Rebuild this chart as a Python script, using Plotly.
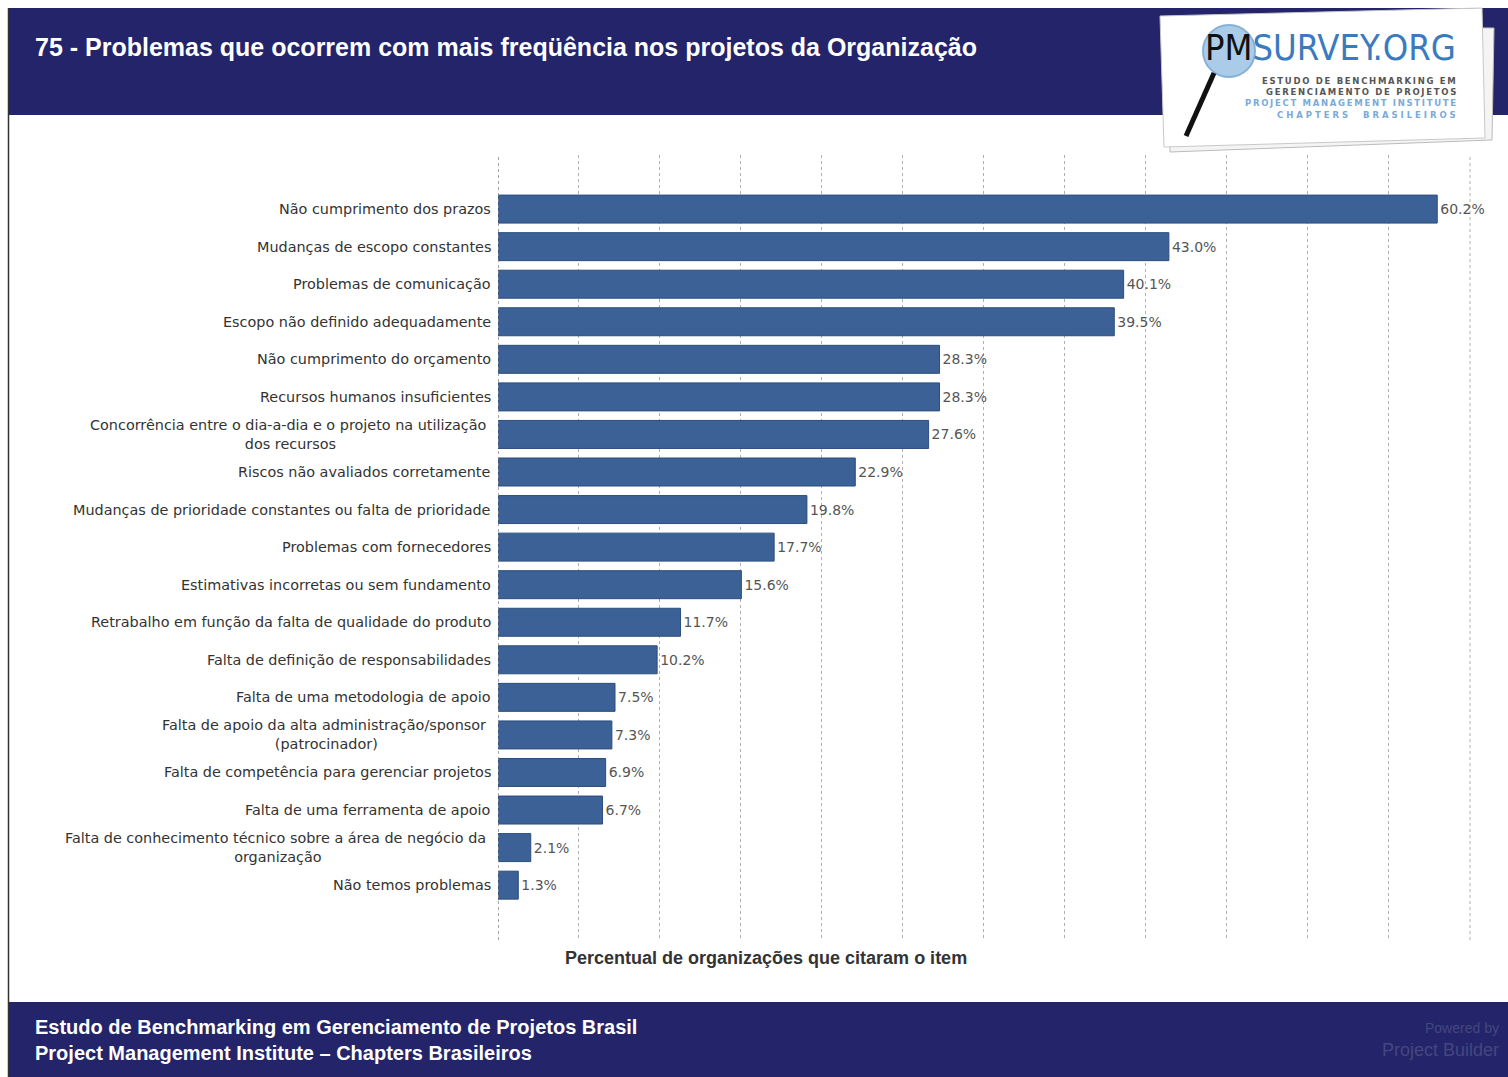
import plotly.graph_objects as go

categories = [
    "Não cumprimento dos prazos",
    "Mudanças de escopo constantes",
    "Problemas de comunicação",
    "Escopo não definido adequadamente",
    "Não cumprimento do orçamento",
    "Recursos humanos insuficientes",
    "Concorrência entre o dia-a-dia e o projeto na utilização <br>dos recursos",
    "Riscos não avaliados corretamente",
    "Mudanças de prioridade constantes ou falta de prioridade",
    "Problemas com fornecedores",
    "Estimativas incorretas ou sem fundamento",
    "Retrabalho em função da falta de qualidade do produto",
    "Falta de definição de responsabilidades",
    "Falta de uma metodologia de apoio",
    "Falta de apoio da alta administração/sponsor <br>(patrocinador)",
    "Falta de competência para gerenciar projetos",
    "Falta de uma ferramenta de apoio",
    "Falta de conhecimento técnico sobre a área de negócio da <br>organização",
    "Não temos problemas",
]
values = [60.2, 43.0, 40.1, 39.5, 28.3, 28.3, 27.6, 22.9, 19.8, 17.7,
          15.6, 11.7, 10.2, 7.5, 7.3, 6.9, 6.7, 2.1, 1.3]
value_labels = [f"{v:.1f}%" for v in values]

title_text = "75 - Problemas que ocorrem com mais freqüência nos projetos da Organização"
axis_title = "Percentual de organizações que citaram o item"
footer_lines = ["Estudo de Benchmarking em Gerenciamento de Projetos Brasil",
                "Project Management Institute – Chapters Brasileiros"]
logo_lines = ["ESTUDO DE BENCHMARKING EM", "GERENCIAMENTO DE PROJETOS",
              "PROJECT MANAGEMENT INSTITUTE", "CHAPTERS  BRASILEIROS"]

W, H = 1508, 1077
ML, MR, MT, MB = 498, 38, 155, 137
PW, PH = W - ML - MR, H - MT - MB

def px(x):
    return (x - ML) / PW

def py(y):
    return (H - MB - y) / PH

NAVY = "#23246a"
BAR = "#3b6196"
GRID = "#b0b0b0"

fig = go.Figure()
fig.add_trace(go.Bar(
    x=values, y=categories, orientation="h",
    marker=dict(color=BAR, line=dict(color="#2c4d7e", width=1)),
    width=0.745,
    text=value_labels, textposition="outside",
    textfont=dict(family="DejaVu Sans", size=14, color="#555555"),
    cliponaxis=False, hoverinfo="skip",
))

shapes = []
shapes.append(dict(type="rect", xref="paper", yref="paper", x0=px(8), x1=px(1508), y0=py(8), y1=py(115),
                   fillcolor=NAVY, line=dict(width=0), layer="below"))
shapes.append(dict(type="rect", xref="paper", yref="paper", x0=px(8), x1=px(1508), y0=py(1002), y1=py(1077),
                   fillcolor=NAVY, line=dict(width=0), layer="below"))
shapes.append(dict(type="line", xref="paper", yref="paper", x0=px(8.5), x1=px(8.5), y0=py(8), y1=py(1077),
                   line=dict(color="#333333", width=1.5)))
shapes.append(dict(type="line", xref="x", yref="paper", x0=0, x1=0, y0=0, y1=1,
                   line=dict(color="#888888", width=1.5, dash="dot")))
shapes.append(dict(type="line", xref="paper", yref="paper", x0=1, x1=1, y0=0, y1=1,
                   line=dict(color=GRID, width=1, dash="dot"), layer="below"))

def path(pts):
    return "M " + " L ".join(f"{px(a)},{py(b)}" for a, b in pts) + " Z"

shapes.append(dict(type="path", xref="paper", yref="paper",
                   path=path([(1168, 26), (1494, 28), (1492, 140), (1170, 152)]),
                   fillcolor="#f4f4f4", line=dict(color="#bbbbbb", width=1)))
shapes.append(dict(type="path", xref="paper", yref="paper",
                   path=path([(1160, 16), (1482, 8), (1485, 138), (1164, 147)]),
                   fillcolor="#ffffff", line=dict(color="#c8c8c8", width=1)))
shapes.append(dict(type="circle", xref="paper", yref="paper",
                   x0=px(1203), x1=px(1255), y0=py(25), y1=py(77),
                   fillcolor="#9cc4e6", line=dict(color="#6fa3d3", width=2), opacity=0.85))
shapes.append(dict(type="line", xref="paper", yref="paper",
                   x0=px(1214), y0=py(73), x1=px(1186), y1=py(136),
                   line=dict(color="#111111", width=5)))

annotations = []
annotations.append(dict(text="<b>" + title_text + "</b>", xref="paper", yref="paper",
                        x=px(33), y=py(47), xanchor="left", yanchor="middle", showarrow=False,
                        font=dict(family="Liberation Sans", size=25, color="white")))
for i, line in enumerate(footer_lines):
    annotations.append(dict(text="<b>" + line + "</b>", xref="paper", yref="paper",
                            x=px(33), y=py(1027 + 26 * i), xanchor="left", yanchor="middle", showarrow=False,
                            font=dict(family="Liberation Sans", size=20, color="white")))
annotations.append(dict(text="Powered by", xref="paper", yref="paper", x=px(1501), y=py(1028),
                        xanchor="right", yanchor="middle", showarrow=False,
                        font=dict(family="Liberation Sans", size=14, color="#44477f")))
annotations.append(dict(text="Project Builder", xref="paper", yref="paper", x=px(1501), y=py(1050),
                        xanchor="right", yanchor="middle", showarrow=False,
                        font=dict(family="Liberation Sans", size=18, color="#44477f")))
annotations.append(dict(text="<span style='color:#111111'>PM</span>SURVEY.ORG", xref="paper", yref="paper",
                        x=px(1203), y=py(47), xanchor="left", yanchor="middle", showarrow=False,
                        font=dict(family="DejaVu Sans Condensed, DejaVu Sans", size=36, color="#3a7bbf")))
logo_cols = ["#555555", "#555555", "#7aaad8", "#7aaad8"]
logo_y = [81, 92, 103, 115]
logo_sep = ["\u2009", "\u2009", "\u2009", " "]
for txt, col, yy, sep in zip(logo_lines, logo_cols, logo_y, logo_sep):
    spaced = sep.join(txt)
    annotations.append(dict(text="<b>" + spaced + "</b>", xref="paper", yref="paper", x=px(1458), y=py(yy),
                            xanchor="right", yanchor="middle", showarrow=False,
                            font=dict(family="DejaVu Sans", size=8.5, color=col)))
for c in categories:
    annotations.append(dict(text=c, xref="x", yref="y", x=0, y=c, xanchor="right", yanchor="middle",
                            xshift=-5, align="center", showarrow=False,
                            font=dict(family="DejaVu Sans", size=14.4, color="#333333")))
annotations.append(dict(text="<b>" + axis_title + "</b>", xref="paper", yref="paper",
                        x=px(766), y=py(958), xanchor="center", yanchor="middle", showarrow=False,
                        font=dict(family="Liberation Sans", size=18, color="#333333")))

fig.update_layout(
    width=W, height=H,
    margin=dict(l=ML, r=MR, t=MT, b=MB, pad=0),
    paper_bgcolor="white", plot_bgcolor="white",
    showlegend=False,
    shapes=shapes, annotations=annotations,
    xaxis=dict(range=[0, 62.3], tick0=0, dtick=5.19, showticklabels=False, showgrid=True,
               gridcolor=GRID, griddash="dot", gridwidth=1, zeroline=False, ticks="", showline=False,
               fixedrange=True),
    yaxis=dict(type="category", categoryorder="array", categoryarray=categories,
               range=[19.46, -1.44], showticklabels=False, showgrid=False, zeroline=False, ticks="",
               fixedrange=True),
)

fig.write_html("out.html", config={"displayModeBar": False})
